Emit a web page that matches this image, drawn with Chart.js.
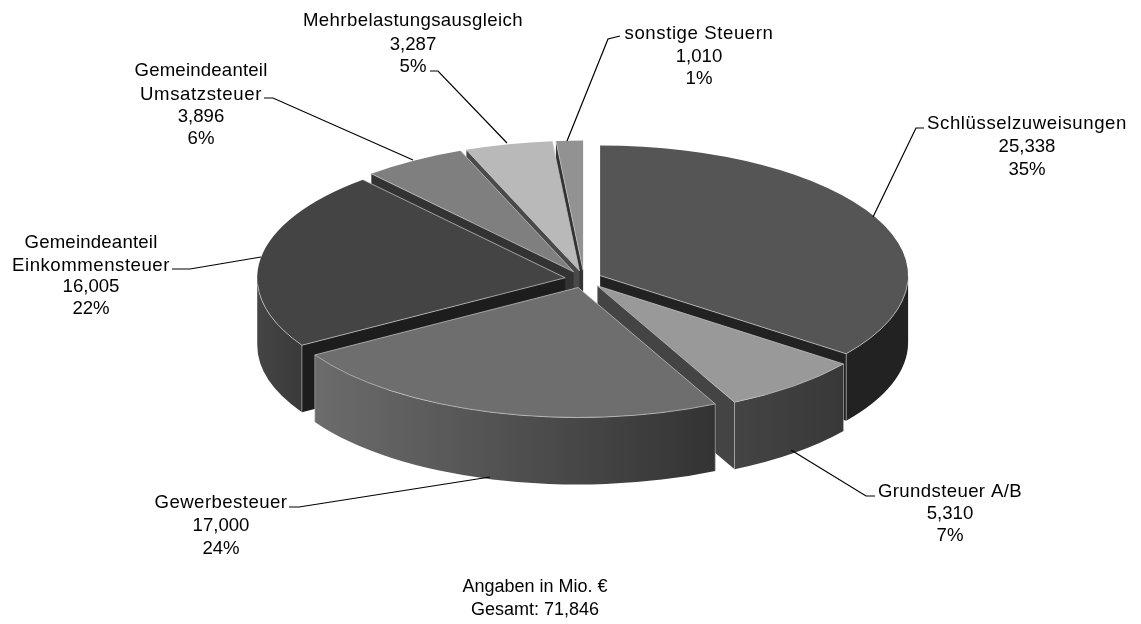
<!DOCTYPE html>
<html><head><meta charset="utf-8">
<style>html,body{margin:0;padding:0;background:#fff}canvas{display:block}</style>
<script src="https://cdn.jsdelivr.net/npm/chart.js@4"></script>
</head><body><canvas id="c" width="1141" height="624"></canvas>
<script>
const categories = ["Schlüsselzuweisungen","Grundsteuer A/B","Gewerbesteuer","Gemeindeanteil Einkommensteuer","Gemeindeanteil Umsatzsteuer","Mehrbelastungsausgleich","sonstige Steuern"];
const values = [25.338,5.310,17.000,16.005,3.896,3.287,1.010];
const valueLabels = ["25,338","5,310","17,000","16,005","3,896","3,287","1,010"];
const percentLabels = ["35%","7%","24%","22%","6%","5%","1%"];
const nameLines = [["Schlüsselzuweisungen"],["Grundsteuer A/B"],["Gewerbesteuer"],["Gemeindeanteil","Einkommensteuer"],["Gemeindeanteil","Umsatzsteuer"],["Mehrbelastungsausgleich"],["sonstige Steuern"]];
const footnote = ["Angaben in Mio. €","Gesamt: 71,846"];

const topColors = ["#555555","#999999","#6e6e6e","#444444","#7f7f7f","#b9b9b9","#929292"];
const cutColors = ["#222222","#444444","#333333","#1d1d1d","#333333","#4a4a4a","#333333"];
const wallFrom  = ["#222222","#444444","#6c6c6c","#454545","#666666","#999999","#777777"];
const wallTo    = ["#222222","#383838","#333333","#3a3a3a","#555555","#888888","#666666"];
const cutEdge   = ["end","end",null,"start","start","start","start"];
const explode   = [18,21,21,19,20,20,20];
const drawOrder = [6,5,4,3,0,1,2];
const geom = {cx:584, cy:279, rx:308, ry:130, depth:67};
const labelLayout = [
  {x:1027,y:[124,147,170],w:[200],leader:[[873,217],[916,128],[924,128]]},
  {x:950,y:[492,514,536],w:[144],leader:[[791,450],[866,496],[875,496]]},
  {x:221,y:[503,526,549],w:[133],leader:[[490,477],[299,507],[289,507]]},
  {x:91,y:[243,266,287,309],w:[133,158],leader:[[261,257],[190,269],[172,269]]},
  {x:201,y:[71,95,117,139],w:[133,122],leader:[[413,160],[273,98],[264,98]]},
  {x:413,y:[21,45,67],w:[220],leader:[[507,143],[438,71],[430,71]]},
  {x:699,y:[34,57,79],w:[149],leader:[[567,141],[608,39],[620,36]]}
];
const footLayout = {x:535,y:[587,610]};

const pie3d = {
  id:'pie3d',
  beforeDatasetsDraw(chart){
    const ctx = chart.ctx, arcs = chart.getDatasetMeta(0).data;
    const {cx,cy,rx,ry,depth} = geom;
    drawOrder.forEach(i=>{
      const arc = arcs[i], R = arc.outerRadius;
      const s = arc.startAngle, e = arc.endAngle, m = (s+e)/2;
      const ax = cx + Math.cos(m)*explode[i];
      const ay = cy + Math.sin(m)*explode[i]*ry/rx;
      const pt = a => [ax+Math.cos(a)*rx, ay+Math.sin(a)*ry];
      if (cutEdge[i]) {
        const p = pt(cutEdge[i]==='end'?e:s);
        ctx.beginPath();
        ctx.moveTo(ax,ay); ctx.lineTo(p[0],p[1]); ctx.lineTo(p[0],p[1]+depth); ctx.lineTo(ax,ay+depth); ctx.closePath();
        ctx.fillStyle = cutColors[i]; ctx.fill();
      }
      const p1 = pt(s), p2 = pt(e);
      // only the front half of the rim has a visible outer wall
      const a0 = Math.max(s,0), a1 = Math.min(e,Math.PI);
      if (a1>a0) {
        const q1 = pt(a0), q2 = pt(a1);
        const g = ctx.createLinearGradient(Math.min(q1[0],q2[0]),0,Math.max(q1[0],q2[0]),0);
        g.addColorStop(0,wallFrom[i]); g.addColorStop(1,wallTo[i]);
        ctx.beginPath();
        ctx.ellipse(ax,ay,rx,ry,0,a0,a1,false);
        ctx.ellipse(ax,ay+depth,rx,ry,0,a1,a0,true);
        ctx.closePath();
        ctx.fillStyle = g; ctx.fill();
      }
      ctx.strokeStyle = 'rgba(190,190,190,0.75)'; ctx.lineWidth = 0.8;
      [p1,p2].forEach(p=>{ if(p[1]-ay>40){
        ctx.beginPath(); ctx.moveTo(p[0],p[1]); ctx.lineTo(p[0],p[1]+depth); ctx.stroke(); }});
      ctx.save();
      ctx.translate(ax,ay); ctx.scale(rx/R,ry/R); ctx.translate(-arc.x,-arc.y);
      arc.draw(ctx);
      ctx.restore();
      ctx.strokeStyle = 'rgba(195,195,195,0.85)'; ctx.lineWidth = 0.9;
      ctx.beginPath();
      ctx.moveTo(p1[0],p1[1]); ctx.lineTo(ax,ay); ctx.lineTo(p2[0],p2[1]);
      if (i===0) { ctx.beginPath(); ctx.moveTo(ax,ay); ctx.lineTo(p2[0],p2[1]); }
      if (i===6) { ctx.beginPath(); ctx.moveTo(p1[0],p1[1]); ctx.lineTo(ax,ay); }
      ctx.stroke();
      const r0 = Math.max(s,0.05), r1 = Math.min(e,Math.PI-0.05);
      if (r1>r0) { ctx.beginPath(); ctx.ellipse(ax,ay,rx,ry,0,r0,r1,false); ctx.stroke(); }
    });
    return false;
  },
  afterDraw(chart){
    const ctx = chart.ctx;
    ctx.save();
    ctx.fillStyle = '#000'; ctx.font = '18.6px "Liberation Sans"';
    ctx.textAlign = 'center'; ctx.textBaseline = 'middle';
    labelLayout.forEach((L,i)=>{
      const names = nameLines[i];
      names.forEach((t,j)=>{
        ctx.letterSpacing = '0px';
        const extra = (L.w[j]-ctx.measureText(t).width)/t.length;
        ctx.letterSpacing = extra.toFixed(2)+'px';
        ctx.fillText(t,L.x,L.y[j]);
      });
      ctx.letterSpacing = '0px';
      [valueLabels[i],percentLabels[i]].forEach((t,j)=>ctx.fillText(t,L.x,L.y[names.length+j]));
      ctx.beginPath();
      L.leader.forEach((p,j)=> j?ctx.lineTo(p[0],p[1]):ctx.moveTo(p[0],p[1]));
      ctx.strokeStyle='#000'; ctx.lineWidth=1.2; ctx.stroke();
    });
    ctx.font = '18px "Liberation Sans"';
    footnote.forEach((t,j)=>ctx.fillText(t,footLayout.x,footLayout.y[j]));
    ctx.restore();
  }
};

new Chart(document.getElementById('c').getContext('2d'),{
  type:'pie',
  data:{labels:categories,datasets:[{data:values,backgroundColor:topColors,borderWidth:0}]},
  options:{responsive:false,animation:false,layout:{padding:0},
    plugins:{legend:{display:false},tooltip:{enabled:false},title:{display:false}}},
  plugins:[pie3d]
});
</script></body></html>
